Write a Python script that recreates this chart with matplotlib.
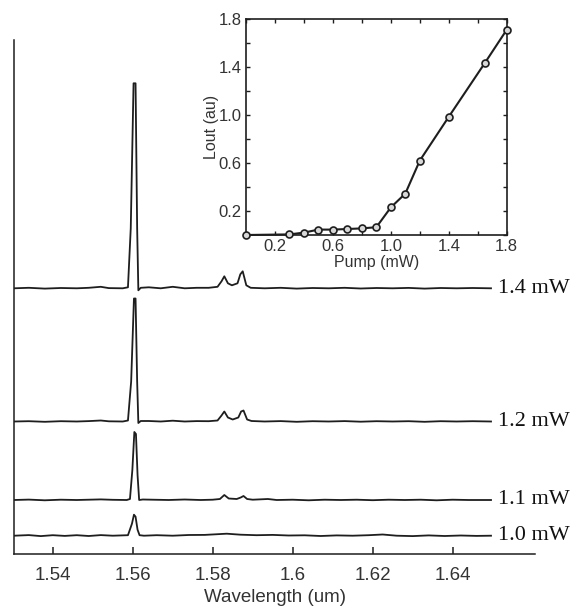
import matplotlib
matplotlib.use("Agg")
import matplotlib.pyplot as plt

# ---------------- data ----------------
# emission spectra (wavelength in um, intensity relative to baseline, arb. units)
wl_14 = [1.5303, 1.534, 1.538, 1.542, 1.546, 1.549, 1.552, 1.554, 1.5575, 1.5588, 1.5595,
         1.5602, 1.5607, 1.5611, 1.5614, 1.5620, 1.564, 1.567, 1.570, 1.573, 1.576, 1.579,
         1.5812, 1.5822, 1.5829, 1.5838, 1.5848, 1.5862, 1.5869, 1.5875, 1.5884, 1.5895,
         1.593, 1.597, 1.601, 1.605, 1.609, 1.613, 1.617, 1.621, 1.625, 1.629, 1.633,
         1.637, 1.641, 1.645, 1.6496]
in_14 = [0, 0.5, -0.3, 0.3, 0, 0.5, 1.5, 0.2, 0, 1, 60,
         205, 205, 60, -2, 0.5, 1, 0, 1.5, 0, 0.5, 0.5,
         1.5, 7, 12, 5, 3, 5, 14, 17, 3, 0.5,
         0, 0.5, -0.3, 0.3, 0, 0.5, -0.2, 0.3, 0, 0.4, -0.3,
         0.3, 0, 0.3, 0]

wl_12 = [1.5303, 1.534, 1.538, 1.542, 1.546, 1.549, 1.552, 1.554, 1.5575, 1.5588, 1.5596,
         1.5603, 1.5607, 1.5611, 1.5614, 1.5620, 1.564, 1.567, 1.570, 1.573, 1.576, 1.579,
         1.5812, 1.5822, 1.5829, 1.5838, 1.5850, 1.5864, 1.5871, 1.5877, 1.5886, 1.5897,
         1.593, 1.597, 1.601, 1.605, 1.609, 1.613, 1.617, 1.621, 1.625, 1.629, 1.633,
         1.637, 1.641, 1.645, 1.6496]
in_12 = [0, 0.3, -0.3, 0.3, 0, 0.4, 1.0, 0.2, 0, 1, 40,
         123, 123, 40, -1.5, 0.5, 0.5, 0, 0.8, 0, 0.4, 0.3,
         1.0, 6, 10, 4, 2, 4, 10, 11, 2, 0.5,
         0, 0.4, -0.3, 0.3, 0, 0.4, -0.2, 0.3, 0, 0.3, -0.3,
         0.3, 0, 0.3, 0]

wl_11 = [1.5303, 1.534, 1.538, 1.542, 1.546, 1.549, 1.552, 1.555, 1.5585, 1.5593, 1.5599,
         1.5604, 1.5608, 1.5612, 1.5616, 1.5625, 1.565, 1.569, 1.573, 1.577, 1.580,
         1.5818, 1.5829, 1.5840, 1.5860, 1.5870, 1.5877, 1.5886, 1.590, 1.5938, 1.596,
         1.600, 1.604, 1.608, 1.612, 1.616, 1.620, 1.624, 1.628, 1.632, 1.636, 1.640,
         1.644, 1.6496]
in_11 = [0, 0.4, -0.3, 0.3, 0, 0.3, 0.6, 0.2, 0, 1, 30,
         68, 66, 25, 0, 0.5, 0.3, 0, 0.5, 0, 0.3,
         1.0, 5, 1.5, 1, 2.5, 4, 1, 0.3, 1.0, 0,
         0.3, -0.3, 0.3, 0, 0.3, -0.2, 0.3, 0, 0.3, -0.3, 0.3,
         0, 0]

wl_10 = [1.5303, 1.534, 1.537, 1.540, 1.543, 1.546, 1.549, 1.552, 1.555, 1.5588, 1.5598,
         1.5603, 1.5607, 1.5612, 1.5617, 1.5628, 1.566, 1.570, 1.574, 1.578, 1.5835,
         1.587, 1.591, 1.595, 1.599, 1.603, 1.607, 1.611, 1.615, 1.619, 1.6225, 1.626,
         1.630, 1.634, 1.638, 1.642, 1.646, 1.6496]
in_10 = [0, 0.6, -0.4, 0.5, -0.2, 0.5, -0.3, 0.6, 0, 0.5, 12,
         21, 19, 6, 0.5, 0, 0.5, 0, 0.7, 0.8, 2.0,
         1.0, 0.5, 0.8, 0.2, 0.4, -0.3, 0.3, 0, 0.5, 1.2, 0,
         -0.4, 0.3, -0.3, 0.2, -0.2, 0]

spectra = [(wl_10, in_10), (wl_11, in_11), (wl_12, in_12), (wl_14, in_14)]
offsets = [18.3, 54.0, 132.5, 265.7]
labels = ["1.0 mW", "1.1 mW", "1.2 mW", "1.4 mW"]

wl_ticks = [1.54, 1.56, 1.58, 1.60, 1.62, 1.64]
wl_ticklabels = ["1.54", "1.56", "1.58", "1.6", "1.62", "1.64"]

# inset: light output vs pump power
pump = [0, 0.3, 0.4, 0.5, 0.6, 0.7, 0.8, 0.9, 1.0, 1.1, 1.2, 1.4, 1.65, 1.8]
lout = [0, 0.005, 0.02, 0.045, 0.045, 0.05, 0.055, 0.065, 0.23, 0.345, 0.62, 0.985, 1.435, 1.71]
inset_ticks = [0, 0.2, 0.4, 0.6, 0.8, 1.0, 1.2, 1.4, 1.6, 1.8]
inset_ticklabels = ["", "0.2", "", "0.6", "", "1.0", "", "1.4", "", "1.8"]

# ---------------- figure ----------------
W, H = 576, 608
fig = plt.figure(figsize=(W / 100, H / 100), dpi=100)
fig.patch.set_facecolor("white")

ink = "#1e1e1e"
sans = ["Liberation Sans", "DejaVu Sans"]
serif = ["Liberation Serif", "DejaVu Serif"]

ax = fig.add_axes([14 / W, 1 - 554 / H, (535 - 14) / W, (554 - 40) / H])
ax.set_xlim(1.5303, 1.6606)
ax.set_ylim(0, 514)
for (wl, inten), off, lab in zip(spectra, offsets, labels):
    ax.plot(wl, [v + off for v in inten], color=ink, lw=1.3)
    ax.text(1.6513, off, lab, ha="left", va="center", fontsize=16,
            family=serif, color="#111111", clip_on=False)

ax.spines["top"].set_visible(False)
ax.spines["right"].set_visible(False)
for s in ("left", "bottom"):
    ax.spines[s].set_linewidth(1.1)
    ax.spines[s].set_color(ink)
ax.set_yticks([])
ax.set_xticks(wl_ticks)
ax.set_xticklabels(wl_ticklabels, family=sans, fontsize=13.5, color="#333333")
ax.tick_params(axis="x", direction="in", length=5, width=1.1, color=ink, pad=9)
ax.set_xlabel("Wavelength (um)", family=sans, fontsize=13.5, color="#333333", labelpad=4)

# inset
ia = fig.add_axes([246 / W, 1 - 235 / H, (506.7 - 246) / W, (235 - 19) / H])
ia.plot(pump, lout, color=ink, lw=1.5, marker="o", ms=5, mfc="#d8d8d8", mec=ink, mew=1.2,
        clip_on=False, zorder=3)
ia.set_xlim(0, 1.8)
ia.set_ylim(0, 1.8)
ia.set_xticks(inset_ticks)
ia.set_xticklabels(inset_ticklabels, family=sans, fontsize=12, color="#333333")
ia.set_yticks(inset_ticks)
ia.set_yticklabels(inset_ticklabels, family=sans, fontsize=12, color="#333333")
ia.tick_params(direction="in", length=3, width=1, color=ink, top=True, right=True)
ia.tick_params(axis="x", pad=3)
ia.tick_params(axis="y", pad=3)
for s in ia.spines.values():
    s.set_linewidth(1.2)
    s.set_color(ink)
ia.set_xlabel("Pump (mW)", family=sans, fontsize=11.5, color="#333333", labelpad=0.5)
ia.set_ylabel("Lout (au)", family=sans, fontsize=11.5, color="#333333", labelpad=0)

fig.savefig("out.png", dpi=100, facecolor="white")
